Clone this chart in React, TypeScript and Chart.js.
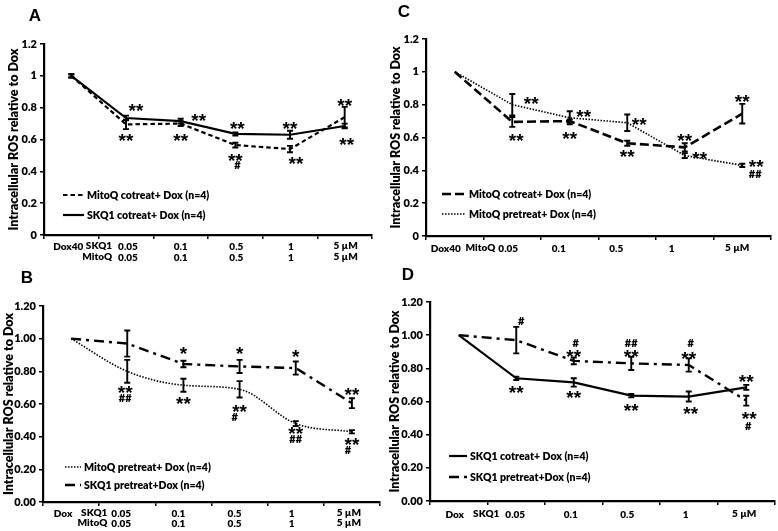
import React, { useEffect, useRef } from "react";
import { Chart, registerables } from "chart.js";
Chart.register(...registerables);

const FONT = "Lato, 'Open Sans', sans-serif";
const STARFONT = "'Liberation Sans', Arial, sans-serif";
const W = 800;
const YTITLE = "Intracellular ROS relative to Dox";

// ---------- DATA ----------
const categories = ["Dox", "0.05", "0.1", "0.5", "1", "5"];

// Panel A
const mitoQCotreatA = [1.0, 0.695, 0.7, 0.565, 0.54, 0.74];
const mitoQCotreatErrA = [0.01, 0.03, 0.015, 0.015, 0.02, 0.065];
const skq1CotreatA = [1.0, 0.735, 0.715, 0.635, 0.63, 0.685];
const skq1CotreatErrA = [0.01, 0.015, 0.015, 0.01, 0.025, 0.015];
const annA: [number, number, string, number][] = [
  [1, 0.8, "**", 10], [1, 0.61, "**", 0],
  [2, 0.74, "**", 18], [2, 0.61, "**", 0],
  [3, 0.685, "**", 2], [3, 0.49, "**", 0], [3, 0.44, "#", 2],
  [4, 0.685, "**", 0], [4, 0.47, "**", 6],
  [5, 0.83, "**", 0], [5, 0.59, "**", 2],
];

// Panel C
const mitoQCotreatC = [1.0, 0.695, 0.7, 0.565, 0.54, 0.745];
const mitoQCotreatErrC = [0, 0.03, 0.01, 0.015, 0.025, 0.06];
const mitoQPretreatC = [1.0, 0.8, 0.72, 0.69, 0.49, 0.43];
const mitoQPretreatErrC = [0, 0.065, 0.04, 0.05, 0.015, 0.01];
const annC: [number, number, string, number][] = [
  [1, 0.825, "**", 19], [1, 0.6, "**", 4],
  [2, 0.745, "**", 14], [2, 0.61, "**", 0],
  [3, 0.7, "**", 12], [3, 0.505, "**", 0],
  [4, 0.6, "**", 0], [4, 0.49, "**", 15],
  [5, 0.835, "**", 0], [5, 0.44, "**", 14], [5, 0.375, "##", 13],
];

// Panel B
const mitoQPretreatB = [1.0, 0.8, 0.715, 0.69, 0.48, 0.43];
const mitoQPretreatErrB = [0, 0.07, 0.04, 0.05, 0.015, 0.01];
const skq1PretreatB = [1.0, 0.97, 0.845, 0.83, 0.82, 0.605];
const skq1PretreatErrB = [0, 0.08, 0.02, 0.04, 0.04, 0.03];
const annB: [number, number, string, number][] = [
  [1, 0.69, "**", -2], [1, 0.638, "##", -2],
  [2, 0.925, "*", 0], [2, 0.62, "**", 0],
  [3, 0.925, "*", 0], [3, 0.575, "**", 0], [3, 0.522, "#", -5],
  [4, 0.91, "*", 0], [4, 0.435, "**", 0], [4, 0.383, "##", 0],
  [5, 0.675, "**", 0], [5, 0.37, "**", 0], [5, 0.318, "#", -4],
];

// Panel D
const skq1CotreatD = [1.0, 0.74, 0.715, 0.635, 0.63, 0.685];
const skq1CotreatErrD = [0, 0.01, 0.025, 0.01, 0.03, 0.015];
const skq1PretreatD = [1.0, 0.97, 0.845, 0.83, 0.82, 0.605];
const skq1PretreatErrD = [0, 0.08, 0.02, 0.04, 0.04, 0.03];
const annD: [number, number, string, number][] = [
  [1, 1.085, "#", 5], [1, 0.675, "**", 0],
  [2, 0.955, "#", 2], [2, 0.89, "**", 0], [2, 0.64, "**", 0],
  [3, 0.955, "##", 0], [3, 0.89, "**", 0], [3, 0.565, "**", 0],
  [4, 0.95, "#", 2], [4, 0.88, "**", 0], [4, 0.545, "**", 2],
  [5, 0.74, "**", 0], [5, 0.515, "**", 3], [5, 0.455, "#", 2],
];

const yTicks12 = ["0", "0.2", "0.4", "0.6", "0.8", "1", "1.2"];
const yTicks120 = ["0.00", "0.20", "0.40", "0.60", "0.80", "1.00", "1.20"];

const xRowDox40 = ["Dox40", "0.05", "0.1", "0.5", "1", "5 µM"];
const xRowDox = ["Dox", "0.05", "0.1", "0.5", "1", "5 µM"];
const xRowMito = ["", "0.05", "0.1", "0.5", "1", "5 µM"];

// ---------- STYLES ----------
const DASHED = [4.5, 3];
const LONGDASH = [9, 4];
const DOTTED = [1.5, 1.5];
const DASHDOT = [10, 5, 3, 5];

interface Series { label: string; data: number[]; err: number[]; dash: number[]; width: number; smooth?: boolean }
interface Panel {
  letter: string; lx: number; ly: number;
  left: number; top: number; w: number; h: number;
  area: { l: number; t: number; r: number; b: number };
  titlePad: number;
  yTicks: string[];
  series: Series[];
  ann: [number, number, string, number][];
  rows: { text: string[]; prefix: string; y: number }[];
  labelDx: number[];
  prefixGap: number;
  legend: { x: number; y: number; gap: number; len: number };
}

const panels: Panel[] = [
  {
    letter: "A", lx: 35, ly: 15, left: 0, top: 0, w: 389, h: 265,
    area: { l: 44, t: 44, r: 372, b: 235 }, titlePad: 7.5, yTicks: yTicks12,
    series: [
      { label: "MitoQ cotreat+ Dox (n=4)", data: mitoQCotreatA, err: mitoQCotreatErrA, dash: DASHED, width: 2.2 },
      { label: "SKQ1 cotreat+ Dox (n=4)", data: skq1CotreatA, err: skq1CotreatErrA, dash: [], width: 2.2 },
    ],
    ann: annA,
    rows: [{ text: xRowDox40, prefix: "SKQ1", y: 246 }, { text: xRowMito, prefix: "MitoQ", y: 257 }],
    labelDx: [-3, 2, 0, 1, 1, 1], prefixGap: 6, legend: { x: 63, y: 195, gap: 20, len: 21 },
  },
  {
    letter: "C", lx: 15, ly: 11, left: 389, top: 0, w: 389, h: 265,
    area: { l: 37, t: 39, r: 382, b: 236 }, titlePad: 1, yTicks: yTicks12,
    series: [
      { label: "MitoQ cotreat+ Dox (n=4)", data: mitoQCotreatC, err: mitoQCotreatErrC, dash: LONGDASH, width: 2.6 },
      { label: "MitoQ pretreat+ Dox (n=4)", data: mitoQPretreatC, err: mitoQPretreatErrC, dash: DOTTED, width: 1.6 },
    ],
    ann: annC,
    rows: [{ text: xRowDox40, prefix: "MitoQ", y: 248 }],
    labelDx: [-9, -4, -11, -11, -13, -5], prefixGap: 3, legend: { x: 53, y: 194, gap: 20, len: 24 },
  },
  {
    letter: "B", lx: 27, ly: 12, left: 0, top: 265, w: 389, h: 266,
    area: { l: 43, t: 41, r: 380, b: 237 }, titlePad: 2.5, yTicks: yTicks120,
    series: [
      { label: "MitoQ pretreat+ Dox (n=4)", data: mitoQPretreatB, err: mitoQPretreatErrB, dash: DOTTED, width: 1.6, smooth: true },
      { label: "SKQ1 pretreat+Dox (n=4)", data: skq1PretreatB, err: skq1PretreatErrB, dash: DASHDOT, width: 2.4 },
    ],
    ann: annB,
    rows: [{ text: xRowDox, prefix: "SKQ1", y: 248 }, { text: xRowMito, prefix: "MitoQ", y: 258 }],
    labelDx: [-8, -6, -5, -5, -4, -3], prefixGap: 4, legend: { x: 65, y: 202, gap: 18, len: 16 },
  },
  {
    letter: "D", lx: 19, ly: 9, left: 389, top: 265, w: 389, h: 266,
    area: { l: 41, t: 37, r: 386, b: 236 }, titlePad: 0, yTicks: yTicks120,
    series: [
      { label: "SKQ1 cotreat+ Dox (n=4)", data: skq1CotreatD, err: skq1CotreatErrD, dash: [], width: 2.2 },
      { label: "SKQ1 pretreat+Dox (n=4)", data: skq1PretreatD, err: skq1PretreatErrD, dash: DASHDOT, width: 2.4 },
    ],
    ann: annD,
    rows: [{ text: xRowDox, prefix: "SKQ1", y: 249 }],
    labelDx: [-4, -1, -3, -4, -3, -2], prefixGap: 6, legend: { x: 60, y: 191, gap: 21, len: 18 },
  },
];

function drawCentered(ctx: CanvasRenderingContext2D, t: string, x: number, y: number) {
  const m = ctx.measureText(t);
  const a = m.actualBoundingBoxAscent, d = m.actualBoundingBoxDescent;
  ctx.textBaseline = "alphabetic";
  ctx.fillText(t, x, y + (a - d) / 2);
}

function PanelChart({ p }: { p: Panel }) {
  const ref = useRef<HTMLCanvasElement | null>(null);
  useEffect(() => {
    if (!ref.current) return;
    const decor = {
      id: "decor",
      afterDatasetsDraw(chart: any) {
        const ctx: CanvasRenderingContext2D = chart.ctx;
        const xs = chart.scales.x, ys = chart.scales.y;
        ctx.save();
        // error bars
        ctx.strokeStyle = "#000";
        ctx.lineWidth = 1.9;
        ctx.setLineDash([]);
        p.series.forEach((s) => {
          s.data.forEach((v, i) => {
            const e = s.err[i];
            if (!e) return;
            const x = xs.getPixelForValue(i);
            const y1 = ys.getPixelForValue(v + e), y2 = ys.getPixelForValue(v - e);
            ctx.beginPath();
            ctx.moveTo(x, y1); ctx.lineTo(x, y2);
            ctx.moveTo(x - 3, y1); ctx.lineTo(x + 3, y1);
            ctx.moveTo(x - 3, y2); ctx.lineTo(x + 3, y2);
            ctx.stroke();
          });
        });
        // annotations
        ctx.fillStyle = "#000";
        ctx.textAlign = "center";
        p.ann.forEach(([i, v, t, dx]) => {
          ctx.font = t.includes("*") ? `bold 19px ${STARFONT}` : `${W} 11px ${FONT}`;
          drawCentered(ctx, t, xs.getPixelForValue(i) + dx, ys.getPixelForValue(v));
        });
        // x labels
        ctx.font = `${W} 10px ${FONT}`;
        p.rows.forEach((r) => {
          r.text.forEach((t, i) => {
            if (!t) return;
            ctx.textAlign = "center";
            const x = xs.getPixelForValue(i) + p.labelDx[i];
            drawCentered(ctx, t, x, r.y);
            if (i === 1) {
              const w = ctx.measureText(t).width;
              ctx.textAlign = "right";
              drawCentered(ctx, r.prefix, x - w / 2 - p.prefixGap, r.y);
            }
          });
        });
        // legend
        p.series.forEach((s, k) => {
          const y = p.legend.y + k * p.legend.gap;
          ctx.beginPath();
          ctx.lineWidth = s.width;
          ctx.setLineDash(s.dash);
          ctx.moveTo(p.legend.x, y);
          ctx.lineTo(p.legend.x + p.legend.len, y);
          ctx.stroke();
          ctx.setLineDash([]);
          ctx.textAlign = "left";
          ctx.font = `${W} 10.5px ${FONT}`;
          drawCentered(ctx, s.label, p.legend.x + p.legend.len + 3, y);
        });
        // panel letter
        ctx.font = `bold 17px 'Liberation Sans', Arial, sans-serif`;
        ctx.textAlign = "center";
        drawCentered(ctx, p.letter, p.lx, p.ly);
        ctx.restore();
      },
    };
    const chart = new Chart(ref.current, {
      type: "line",
      data: {
        labels: categories,
        datasets: p.series.map((s) => ({
          label: s.label,
          data: s.data,
          borderColor: "#000",
          borderWidth: s.width,
          borderDash: s.dash,
          pointRadius: 0,
          fill: false,
          tension: 0,
          cubicInterpolationMode: s.smooth ? "monotone" : "default",
        })),
      },
      options: {
        responsive: false,
        animation: false,
        layout: { padding: { top: p.area.t, right: p.w - p.area.r, left: 0, bottom: 0 } },
        plugins: { legend: { display: false }, tooltip: { enabled: false } },
        scales: {
          x: {
            type: "category",
            offset: true,
            grid: { offset: true, drawOnChartArea: false, drawTicks: true, tickLength: 4, color: "#000", lineWidth: 1.5 },
            border: { display: true, color: "#000", width: 2.2 },
            ticks: { display: false },
            afterFit: (s: any) => { s.height = p.h - p.area.b; },
          },
          y: {
            min: 0, max: 1.2,
            ticks: {
              stepSize: 0.2,
              color: "#000",
              padding: 3,
              font: { family: FONT, size: 11, weight: W },
              callback: (_v: any, i: number) => p.yTicks[i],
            },
            grid: { drawOnChartArea: false, drawTicks: true, tickLength: 4, color: "#000", lineWidth: 1.5 },
            border: { display: true, color: "#000", width: 2.2 },
            title: {
              display: true, text: YTITLE, color: "#000",
              font: { family: FONT, size: 12.5, weight: W, lineHeight: 1 },
              padding: { top: p.titlePad, bottom: 0 },
            },
            afterFit: (s: any) => { s.width = p.area.l; },
          },
        },
      } as any,
      plugins: [decor],
    });
    return () => chart.destroy();
  }, [p]);
  return (
    <canvas
      ref={ref}
      width={p.w}
      height={p.h}
      style={{ position: "absolute", left: p.left, top: p.top, width: p.w, height: p.h }}
    />
  );
}

export default function App() {
  return (
    <div style={{ position: "fixed", left: 0, top: 0, width: 778, height: 531, background: "#fff", overflow: "hidden" }}>
      {panels.map((p) => (
        <PanelChart key={p.letter} p={p} />
      ))}
    </div>
  );
}
